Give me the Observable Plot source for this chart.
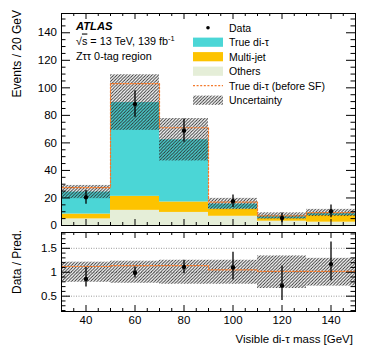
<!DOCTYPE html>
<html>
<head>
<meta charset="utf-8">
<script src="https://cdn.jsdelivr.net/npm/d3@7"></script>
<script src="https://cdn.jsdelivr.net/npm/@observablehq/plot@0.6"></script>
<style>
  body { margin: 0; background: #fff; }
  #chart { position: relative; width: 374px; height: 363px; font-family: "Liberation Sans", Arial, Helvetica, sans-serif; }
  #chart svg { position: absolute; left: 0; }
</style>
</head>
<body>
<div id="chart"></div>
<script>
// ---------------- data ----------------
const binEdges      = [30, 50, 70, 90, 110, 130, 150];
const others        = [4.8, 11.0, 9.5, 6.7, 3.1, 2.4];
const multiJet      = [3.5, 10.2, 7.6, 5.3, 1.9, 4.8];
const trueDiTau     = [16.0, 68.1, 45.2, 3.6, 1.9, 1.9];
const uncertainty   = [4.8, 20.2, 15.4, 4.1, 2.3, 2.6];
const beforeSF      = [27.5, 103.0, 71.0, 17.0, 7.0, 9.3];
const dataValues    = [20.5, 88.2, 68.9, 17.6, 5.5, 10.3];
const dataErrors    = [5.0, 9.6, 8.5, 4.6, 3.5, 4.6];
const ratioValues   = [0.86, 0.99, 1.11, 1.10, 0.72, 1.17];
const ratioLow      = [0.69, 0.88, 0.97, 0.84, 0.41, 0.82];
const ratioHigh     = [1.10, 1.11, 1.25, 1.42, 1.13, 1.63];
const ratioUnc      = [0.21, 0.23, 0.25, 0.25, 0.34, 0.29];
const ratioBeforeSF = [1.12, 1.14, 1.14, 1.05, 1.02, 1.02];
const xTickLabels   = [40, 60, 80, 100, 120, 140];
const yTickLabels   = [0, 20, 40, 60, 80, 100, 120, 140];
const ratioTickLabels = [0.5, 1, 1.5];
const ratioGrid     = [0.5, 1, 1.5];

const colors = { tau: "#4bd6d6", mj: "#fdc300", oth: "#e5eed8", sf: "#f47a2c", hatch: "#2a2a2a" };

// ---------------- derived tables ----------------
const bins = binEdges.slice(0, -1).map((x1, i) => ({
  x1, x2: binEdges[i + 1], xc: (x1 + binEdges[i + 1]) / 2,
  oth: others[i], mj: multiJet[i], tau: trueDiTau[i],
  total: others[i] + multiJet[i] + trueDiTau[i],
  unc: uncertainty[i], data: dataValues[i], err: dataErrors[i],
  r: ratioValues[i], rlo: ratioLow[i], rhi: ratioHigh[i], runc: ratioUnc[i]
}));
const layers = [];
bins.forEach(b => {
  let y0 = 0;
  [["oth", colors.oth], ["mj", colors.mj], ["tau", colors.tau]].forEach(([k, c]) => {
    layers.push({ x1: b.x1, x2: b.x2, y1: y0, y2: y0 + b[k], fill: c });
    y0 += b[k];
  });
});
const sfStep = binEdges.map((x, i) => ({ x, y: beforeSF[Math.min(i, beforeSF.length - 1)] }));
const sfRatioStep = binEdges.map((x, i) => ({ x, y: ratioBeforeSF[Math.min(i, ratioBeforeSF.length - 1)] }));

const W = 374, mL = 61, mR = 19;
const fw = W - mL - mR;
const xDom = [30, 150];
const xMinor = d3.range(30, 151, 5);
const xMajor = d3.range(40, 141, 20);

function frameTicks(yDom, fh, yMajorV, yMinorV, yMaj, yMin, xMaj, xMin) {
  const kx = fw / (xDom[1] - xDom[0]);
  const ky = fh / (yDom[1] - yDom[0]);
  const s = { stroke: "black", strokeWidth: 1 };
  const marks = [];
  const xm = xMinor.filter(v => !xMajor.includes(v));
  const ym = yMinorV.filter(v => !yMajorV.some(M => Math.abs(M - v) < 1e-9));
  for (const [vals, len] of [[xMajor, xMaj], [xm, xMin]]) {
    marks.push(Plot.ruleX(vals, { x: d => d, y1: () => yDom[0], y2: () => yDom[0] + len / ky, ...s }));
    marks.push(Plot.ruleX(vals, { x: d => d, y1: () => yDom[1], y2: () => yDom[1] - len / ky, ...s }));
  }
  for (const [vals, len] of [[yMajorV, yMaj], [ym, yMin]]) {
    marks.push(Plot.ruleY(vals, { y: d => d, x1: () => xDom[0], x2: () => xDom[0] + len / kx, ...s }));
    marks.push(Plot.ruleY(vals, { y: d => d, x1: () => xDom[1], x2: () => xDom[1] - len / kx, ...s }));
  }
  return marks;
}

function addHatch(svg, id) {
  const defs = d3.select(svg).insert("defs", ":first-child");
  const p = defs.append("pattern").attr("id", id).attr("patternUnits", "userSpaceOnUse")
    .attr("width", 3.2).attr("height", 3.2);
  p.append("path").attr("d", "M-0.8,0.8 L0.8,-0.8 M0,3.2 L3.2,0 M2.4,4 L4,2.4")
    .attr("stroke", colors.hatch).attr("stroke-width", 0.95);
}

const font = "Liberation Sans, Arial, Helvetica, sans-serif";

// ---------------- main panel ----------------
const mainTop = 13, mainH = 228, mainB = 3;
const yDomMain = [0, 154];
const main = Plot.plot({
  width: W, height: mainH,
  marginLeft: mL, marginRight: mR, marginTop: mainTop, marginBottom: mainB,
  style: { fontFamily: font, background: "transparent", overflow: "visible" },
  x: { domain: xDom, axis: null },
  y: { domain: yDomMain, axis: null },
  marks: [
    Plot.rect(layers, { x1: "x1", x2: "x2", y1: "y1", y2: "y2", fill: "fill" }),
    Plot.rect(bins, { x1: "x1", x2: "x2", y1: d => d.total - d.unc, y2: d => d.total + d.unc, fill: "url(#hatchMain)" }),
    Plot.line(sfStep, { x: "x", y: "y", curve: "step-after", stroke: colors.sf, strokeWidth: 1.2, strokeDasharray: "2,1.6" }),
    Plot.ruleX(bins, { x: "xc", y1: d => d.data - d.err, y2: d => d.data + d.err, stroke: "black", strokeWidth: 1.3 }),
    Plot.dot(bins, { x: "xc", y: "data", r: 2.2, fill: "black", stroke: null }),
    ...frameTicks(yDomMain, mainH - mainTop - mainB, yTickLabels, d3.range(0, 151, 5), 9, 4.5, 6, 3),
    Plot.frame({ stroke: "black", strokeWidth: 1 }),
    Plot.text(yTickLabels, { x: () => xDom[0], y: d => d, text: d => String(d), textAnchor: "end", dx: -4.5, fontSize: 11.5, fill: "black" })
  ]
});
main.style.top = "0px";
addHatch(main, "hatchMain");

// ---------------- ratio panel ----------------
const rTop = 228, rH = 135, rMT = 4, rMB = 52;
const yDomRatio = [0.18, 1.83];
const ratioPlot = Plot.plot({
  width: W, height: rH,
  marginLeft: mL, marginRight: mR, marginTop: rMT, marginBottom: rMB,
  style: { fontFamily: font, background: "transparent", overflow: "visible" },
  x: { domain: xDom, axis: null },
  y: { domain: yDomRatio, axis: null },
  marks: [
    Plot.ruleY(ratioGrid, { y: d => d, stroke: "#9a9a9a", strokeWidth: 1, strokeDasharray: "1,1.5" }),
    Plot.rect(bins, { x1: "x1", x2: "x2", y1: d => 1 - d.runc, y2: d => 1 + d.runc, fill: "url(#hatchRatio)" }),
    Plot.line(sfRatioStep, { x: "x", y: "y", curve: "step-after", stroke: colors.sf, strokeWidth: 1.2, strokeDasharray: "2,1.6" }),
    Plot.ruleX(bins, { x: "xc", y1: "rlo", y2: "rhi", stroke: "black", strokeWidth: 1.3 }),
    Plot.dot(bins, { x: "xc", y: "r", r: 2.2, fill: "black", stroke: null }),
    ...frameTicks(yDomRatio, rH - rMT - rMB, ratioTickLabels, d3.range(0.2, 1.81, 0.1).map(v => +v.toFixed(2)), 9, 4.5, 6, 3),
    Plot.frame({ stroke: "black", strokeWidth: 1 }),
    Plot.text(ratioTickLabels, { x: () => xDom[0], y: d => d, text: d => String(d), textAnchor: "end", dx: -4.5, fontSize: 11.5, fill: "black" }),
    Plot.text(xTickLabels, { x: d => d, y: () => yDomRatio[0], text: d => String(d), lineAnchor: "top", dy: 4, fontSize: 11.5, fill: "black" })
  ]
});
ratioPlot.style.top = rTop + "px";
addHatch(ratioPlot, "hatchRatio");

const chart = document.getElementById("chart");
chart.appendChild(main);
chart.appendChild(ratioPlot);

// ---------------- annotations & legend overlay ----------------
const ov = d3.select(chart).append("svg").attr("width", W).attr("height", 363)
  .style("top", "0px").style("font-family", font).style("pointer-events", "none");
addHatch(ov.node(), "hatchLegend");

// axis titles
ov.append("text").attr("transform", "translate(21,10) rotate(-90)").attr("text-anchor", "end")
  .attr("font-size", 12).text("Events / 20 GeV");
ov.append("text").attr("transform", "translate(21,230) rotate(-90)").attr("text-anchor", "end")
  .attr("font-size", 12).text("Data / Pred.");
ov.append("text").attr("x", 353).attr("y", 343).attr("text-anchor", "end")
  .attr("font-size", 11.5).text("Visible di-τ mass [GeV]");

// ATLAS label
ov.append("text").attr("x", 76).attr("y", 29.5).attr("font-size", 11.2)
  .attr("font-weight", "bold").attr("font-style", "italic").text("ATLAS");
const l2 = ov.append("text").attr("x", 76).attr("y", 44.5).attr("font-size", 10.8);
l2.append("tspan").text("√");
l2.append("tspan").attr("text-decoration", "overline").text("s");
l2.append("tspan").text(" = 13 TeV, 139 fb");
l2.append("tspan").attr("dy", -4).attr("font-size", 7.5).text("-1");
ov.append("text").attr("x", 76).attr("y", 59.5).attr("font-size", 10.8).text("Zττ 0-tag region");

// legend
const legendItems = [
  { label: "Data", kind: "dot" },
  { label: "True di-τ", kind: "box", fill: colors.tau },
  { label: "Multi-jet", kind: "box", fill: colors.mj },
  { label: "Others", kind: "box", fill: colors.oth },
  { label: "True di-τ (before SF)", kind: "line" },
  { label: "Uncertainty", kind: "box", fill: "url(#hatchLegend)" }
];
legendItems.forEach((it, i) => {
  const base = 31.5 + i * 14.5;
  const cy = base - 3.8;
  if (it.kind === "dot") {
    ov.append("circle").attr("cx", 208).attr("cy", cy).attr("r", 1.8).attr("fill", "black");
  } else if (it.kind === "box") {
    ov.append("rect").attr("x", 193).attr("y", cy - 4.6).attr("width", 30).attr("height", 9.2).attr("fill", it.fill);
  } else {
    ov.append("line").attr("x1", 193).attr("x2", 223).attr("y1", cy).attr("y2", cy)
      .attr("stroke", colors.sf).attr("stroke-width", 1.2).attr("stroke-dasharray", "2,1.6");
  }
  ov.append("text").attr("x", 229).attr("y", base).attr("font-size", 10.5).text(it.label);
});
</script>
</body>
</html>
